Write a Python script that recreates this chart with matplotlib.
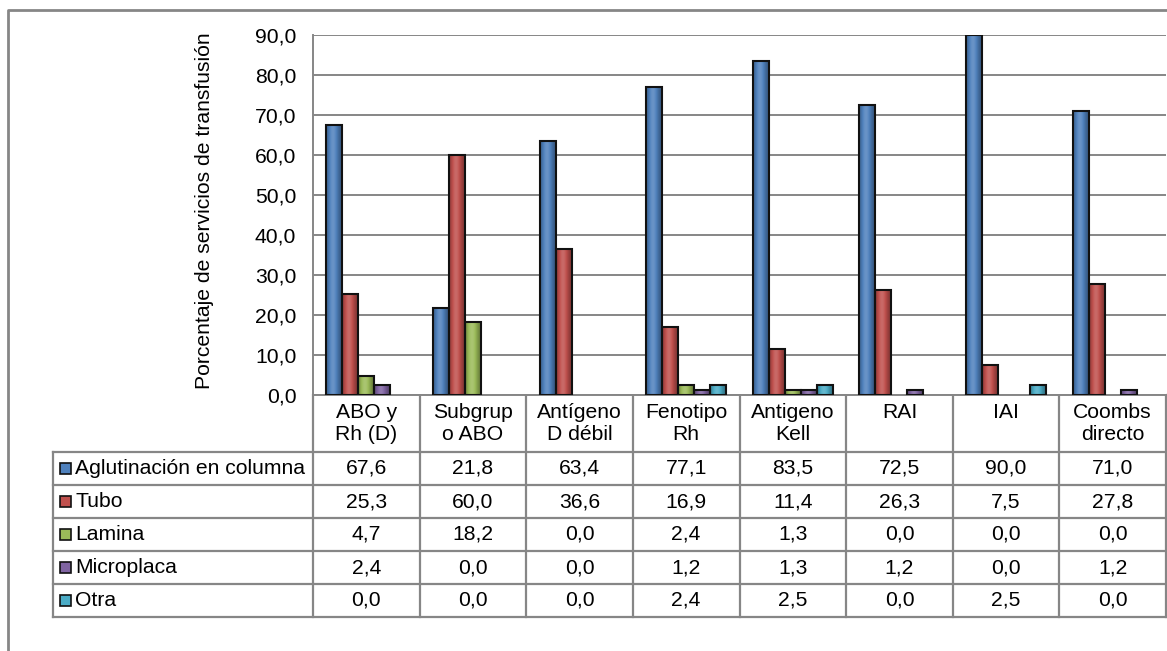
import matplotlib.pyplot as plt
import matplotlib.colors as mcolors
import numpy as np

plt.rcParams['font.family'] = ['Liberation Sans', 'DejaVu Sans']

categories = ['ABO y\nRh (D)', 'Subgrup\no ABO', 'Antígeno\nD débil', 'Fenotipo\nRh',
              'Antigeno\nKell', 'RAI', 'IAI', 'Coombs\ndirecto']
series = ['Aglutinación en columna', 'Tubo', 'Lamina', 'Microplaca', 'Otra']
aglutinacion = [67.6, 21.8, 63.4, 77.1, 83.5, 72.5, 90.0, 71.0]
tubo = [25.3, 60.0, 36.6, 16.9, 11.4, 26.3, 7.5, 27.8]
lamina = [4.7, 18.2, 0.0, 2.4, 1.3, 0.0, 0.0, 0.0]
microplaca = [2.4, 0.0, 0.0, 1.2, 1.3, 1.2, 0.0, 1.2]
otra = [0.0, 0.0, 0.0, 2.4, 2.5, 0.0, 2.5, 0.0]
values = [aglutinacion, tubo, lamina, microplaca, otra]
colors = ['#4F81BD', '#C0504D', '#9BBB59', '#8064A2', '#4BACC6']

W, H = 1167, 651
fig = plt.figure(figsize=(W / 100, H / 100), dpi=100)
fs = 15.2

# pixel layout (Excel style chart with data table)
px_left, px_right, px_top, px_bottom = 313, 1166, 35, 395
ax = fig.add_axes([px_left / W, 1 - px_bottom / H,
                   (px_right - px_left) / W, (px_bottom - px_top) / H])

grid_c = '#868686'
n = len(categories)
bw = 0.15


def shade(c, f):
    rgb = np.array(mcolors.to_rgb(c))
    if f > 0:
        return rgb + (1 - rgb) * f
    return rgb * (1 + f)


for s, (vals, col) in enumerate(zip(values, colors)):
    # horizontal gradient: dark edges, lighter center
    t = np.linspace(0, 1, 40)
    prof = np.exp(-((t - 0.42) / 0.28) ** 2) * 0.15 - 0.4 * (1 - np.exp(-((t - 0.45) / 0.42) ** 2))
    img = np.array([[shade(col, f) for f in prof]])
    for i, v in enumerate(vals):
        if v <= 0:
            continue
        x0 = i + 0.125 + s * bw
        ax.imshow(img, extent=(x0, x0 + bw, 0, v), aspect='auto', zorder=2,
                  interpolation='bilinear')
        ax.bar(x0, v, bw, align='edge', facecolor='none', edgecolor='#111111',
               linewidth=1.5, zorder=3)

ax.set_xlim(0, n)
ax.set_ylim(0, 90)
ax.set_yticks(np.arange(0, 91, 10))
ax.set_yticklabels([f'{v:.1f}'.replace('.', ',') for v in np.arange(0, 91, 10)],
                   fontsize=fs)
ax.tick_params(axis='y', length=0, pad=12)
ax.set_xticks([])
ax.yaxis.grid(True, color=grid_c, linewidth=1.4)
ax.set_axisbelow(True)
for side in ['top', 'right']:
    ax.spines[side].set_visible(False)
ax.spines['left'].set_color(grid_c)
ax.spines['left'].set_linewidth(1.4)
ax.spines['bottom'].set_color(grid_c)
ax.spines['bottom'].set_linewidth(1.4)

# overlay in pixel coordinates for table and outer frame
ov = fig.add_axes([0, 0, 1, 1], zorder=-1)
ov.set_xlim(0, W)
ov.set_ylim(H, 0)
ov.axis('off')

ov.text(205, 211, 'Porcentaje de servicios de transfusión', rotation=90,
        ha='center', va='center', fontsize=fs)
ov.plot([8, 8, W], [H, 10, 10], color=grid_c, lw=2, solid_capstyle='projecting')

cw = (px_right - px_left) / n
head_bot = 452
rh = 33
tab_left = 53
rows_y = [head_bot + k * rh for k in range(len(series) + 1)]
for y in rows_y:
    ov.plot([tab_left, W], [y, y], color=grid_c, lw=1.6)
ov.plot([tab_left, tab_left], [head_bot, rows_y[-1]], color=grid_c, lw=1.6)
for i in range(n + 1):
    x = px_left + i * cw
    ov.plot([x, x], [px_bottom, rows_y[-1]], color=grid_c, lw=1.6)

for i, cat in enumerate(categories):
    ov.text(px_left + (i + 0.5) * cw, px_bottom + 8, cat, ha='center', va='top',
            fontsize=fs, linespacing=1.22)

for r, (name, vals, col) in enumerate(zip(series, values, colors)):
    yc = rows_y[r] + rh / 2
    ov.add_patch(plt.Rectangle((60, yc - 5.5), 10.5, 11, facecolor=col,
                               edgecolor='#111111', lw=1.2))
    ov.text(75, yc, name, ha='left', va='center', fontsize=fs)
    for i, v in enumerate(vals):
        ov.text(px_left + (i + 0.5) * cw, yc, f'{v:.1f}'.replace('.', ','),
                ha='center', va='center', fontsize=fs)

fig.savefig('out.png', dpi=100)
